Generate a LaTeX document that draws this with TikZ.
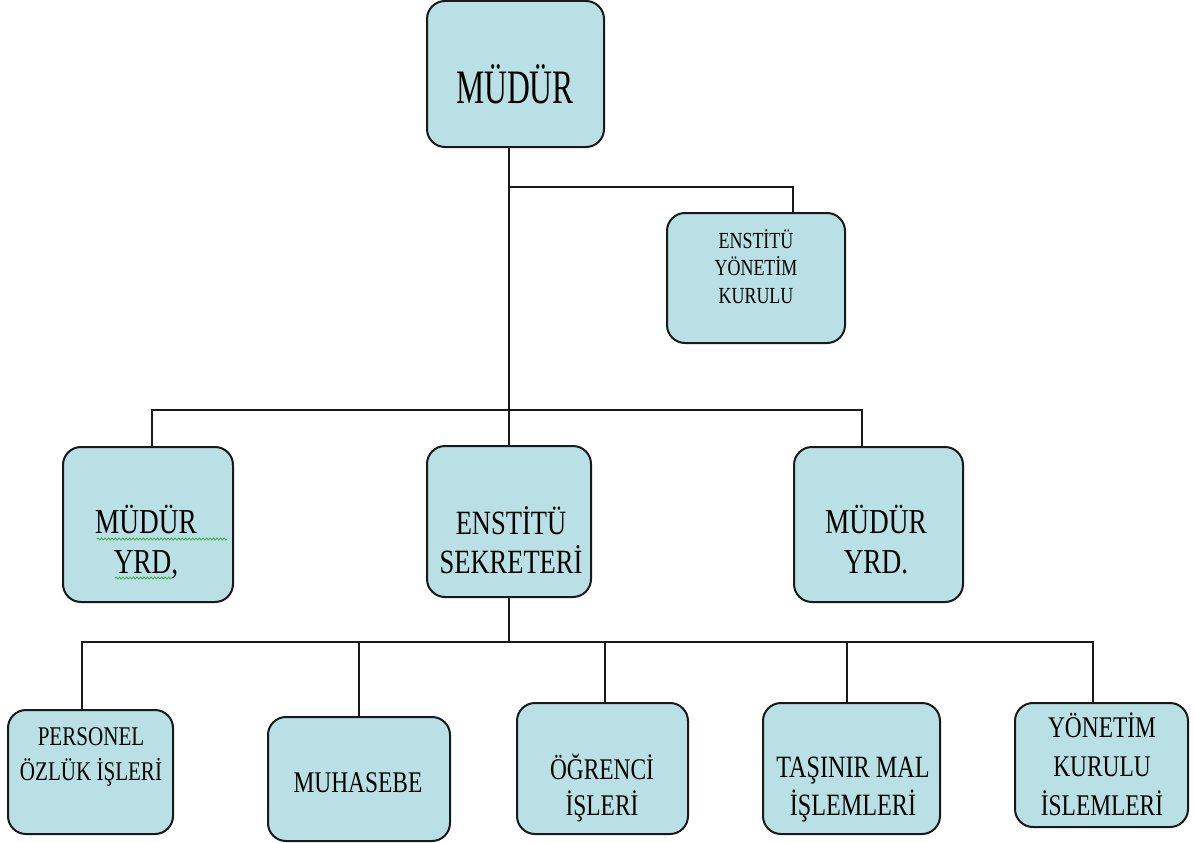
\documentclass[tikz,border=0pt]{standalone}
\usepackage{fontspec}
\setmainfont[FakeStretch=0.78]{Liberation Serif}
\newfontfamily\narrowfont[FakeStretch=0.66]{Liberation Serif}
\usetikzlibrary{calc,decorations.pathmorphing}
\definecolor{boxfill}{RGB}{185,224,228}
\definecolor{squiggle}{RGB}{70,175,70}
\newcommand\stk[1]{\begin{tabular}[b]{@{}c@{}}#1\end{tabular}}
\begin{document}
\begin{tikzpicture}[x=1pt,y=-1pt,
  box/.style={draw=black!90, line width=2pt, fill=boxfill, rounded corners=18pt, inner sep=0pt},
  lbl/.style={anchor=base, inner sep=0pt, text=black},
  conn/.style={draw=black!90, line width=2pt},
  squig/.style={draw=squiggle, line width=1pt, decorate, decoration={snake, amplitude=0.9pt, segment length=3.5pt}}]
\useasboundingbox (0,0) rectangle (1194,843);

% boxes
\node[box, minimum width=177pt, minimum height=146pt] (mudur) at (515.5,74) {};
\node[box, minimum width=178pt, minimum height=130pt] (eyk) at (756,278) {};
\node[box, minimum width=170pt, minimum height=155pt] (myl) at (148,524.5) {};
\node[box, minimum width=164pt, minimum height=151pt] (es) at (509,521.5) {};
\node[box, minimum width=169pt, minimum height=155pt] (myr) at (878.5,524.5) {};
\node[box, minimum width=165pt, minimum height=124pt] (per) at (90.5,772) {};
\node[box, minimum width=182pt, minimum height=124pt] (muh) at (359,779) {};
\node[box, minimum width=171pt, minimum height=131pt] (ogr) at (602.5,768.5) {};
\node[box, minimum width=177pt, minimum height=131pt] (tas) at (851.5,768.5) {};
\node[box, minimum width=173pt, minimum height=124pt] (yki) at (1101.5,765) {};

% connectors
\coordinate (bus) at (508,643);
\draw[conn] (mudur.south -| es.north) -- (es.north);
\draw[conn] (es.north |- 0,187) -| ($(eyk.north)+(37,0)$);
\draw[conn] ($(myl.north)+(4,0)$) -- ++(0,-36) -| ($(myr.north)+(-16.5,0)$);
\draw[conn] (es.south) -- (es.south |- bus);
\draw[conn] ($(per.north)+(-8.5,0)$) -- ++(0,-67) -| ($(yki.north)+(-8.5,0)$);
\draw[conn] (muh.north) -- (muh.north |- bus);
\draw[conn] ($(ogr.north)+(2.5,0)$) -- ++(0,-60);
\draw[conn] ($(tas.north)+(-4.5,0)$) -- ++(0,-60);

% labels
\node[lbl, font=\narrowfont\fontsize{48}{52}\selectfont] (t-mudur) at (515,103) {MÜDÜR};
\node[lbl, font=\fontsize{23}{27.5}\selectfont] (t-eyk) at (756,303) {\stk{ENSTİTÜ\\YÖNETİM\\KURULU}};
\node[lbl, font=\fontsize{35}{40}\selectfont] (t-myl) at (146,573) {\stk{MÜDÜR\\YRD,}};
\node[lbl, font=\fontsize{34}{36}\selectfont] (t-es) at (511,573) {\stk{ENSTİTÜ\\SEKRETERİ}};
\node[lbl, font=\fontsize{35}{40}\selectfont] (t-myr) at (876,573) {\stk{MÜDÜR\\YRD.}};
\node[lbl, font=\fontsize{27}{35}\selectfont] (t-per) at (91,780) {\stk{PERSONEL\\ÖZLÜK İŞLERİ}};
\node[lbl, font=\fontsize{30}{36}\selectfont] (t-muh) at (358,792) {MUHASEBE};
\node[lbl, font=\fontsize{30}{35}\selectfont] (t-ogr) at (602,815) {\stk{ÖĞRENCİ\\İŞLERİ}};
\node[lbl, font=\fontsize{31}{38}\selectfont] (t-tas) at (853,815) {\stk{TAŞINIR MAL\\İŞLEMLERİ}};
\node[lbl, font=\fontsize{30}{39}\selectfont] (t-yki) at (1102,815) {\stk{YÖNETİM\\KURULU\\İSLEMLERİ}};

% spell-check squiggles
\draw[squig] (97,539) -- (227,539);
\draw[squig] (115,578) -- (172,578);
\end{tikzpicture}
\end{document}
